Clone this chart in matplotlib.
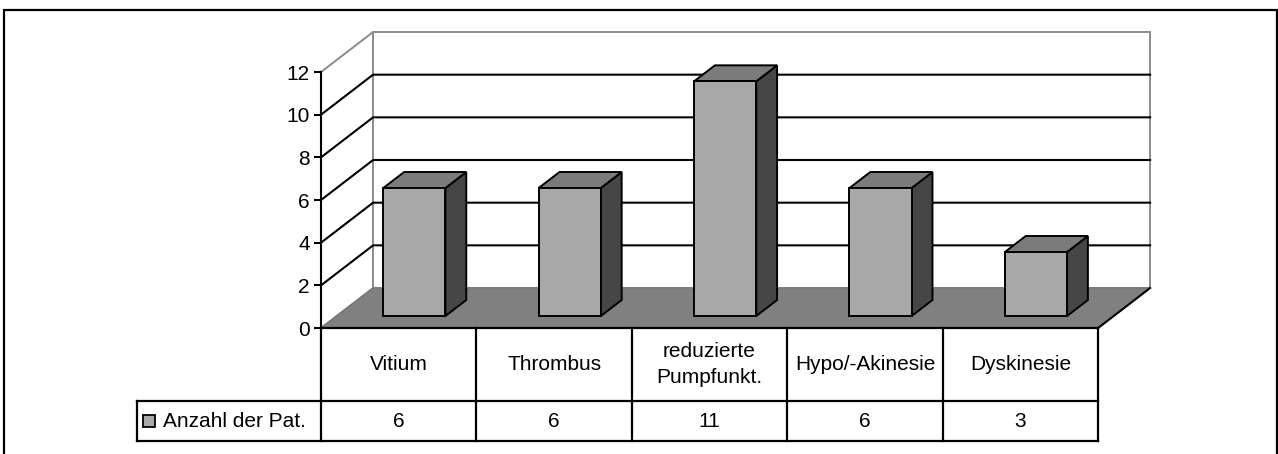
import matplotlib.pyplot as plt
from matplotlib.patches import Polygon, Rectangle

categories = ['Vitium', 'Thrombus', 'reduzierte\nPumpfunkt.', 'Hypo/-Akinesie', 'Dyskinesie']
counts = [6, 6, 11, 6, 3]
series_name = 'Anzahl der Pat.'
y_ticks = [0, 2, 4, 6, 8, 10, 12]

plt.rcParams['font.family'] = ['Liberation Sans', 'DejaVu Sans']
FS = 15

FACE = '#a8a8a8'
TOP = '#7b7b7b'
SIDE = '#464646'
FLOOR = '#808080'
WALL_EDGE = '#8c8c8c'

fig = plt.figure(figsize=(12.78, 4.54), dpi=100)
ax = fig.add_axes([0.2512, 0.2775, 0.608, 0.5639])

n = len(categories)
ymax = y_ticks[-1]
ax.set_xlim(0, n)
ax.set_ylim(0, ymax)
ax.patch.set_visible(False)

# depth offset of the 3d box, in data units
ddx = 0.335
ddy = 1.875

# walls
left_wall = Polygon([(0, 0), (ddx, ddy), (ddx, ymax + ddy), (0, ymax)],
                    closed=True, facecolor='white', edgecolor=WALL_EDGE, lw=1.4,
                    zorder=1, clip_on=False)
back_wall = Polygon([(ddx, ddy), (n + ddx, ddy), (n + ddx, ymax + ddy), (ddx, ymax + ddy)],
                    closed=True, facecolor='white', edgecolor=WALL_EDGE, lw=1.4,
                    zorder=1, clip_on=False)
ax.add_patch(left_wall)
ax.add_patch(back_wall)

# gridlines on both walls
for v in y_ticks[1:-1]:
    ax.plot([0, ddx, n + ddx], [v, v + ddy, v + ddy], color='black', lw=1.5,
            clip_on=False, zorder=2)

# floor
floor = Polygon([(0, 0), (n, 0), (n + ddx, ddy), (ddx, ddy)], closed=True,
                facecolor=FLOOR, edgecolor='#777777', lw=1.0, zorder=3, clip_on=False)
ax.add_patch(floor)
ax.plot([n, n + ddx], [0, ddy], color='black', lw=1.5, clip_on=False, zorder=4)

# 3d bars
w = 1 / 2.5
d0, d1 = 0.3, 0.7
for i, val in enumerate(counts):
    x0 = i + 0.5 - w / 2 + d0 * ddx
    y0 = d0 * ddy
    x1 = x0 + w
    y1 = y0 + val
    ox = (d1 - d0) * ddx
    oy = (d1 - d0) * ddy
    kw = dict(closed=True, edgecolor='black', lw=1.4, zorder=5, clip_on=False,
              joinstyle='miter')
    ax.add_patch(Polygon([(x1, y0), (x1 + ox, y0 + oy), (x1 + ox, y1 + oy), (x1, y1)],
                         facecolor=SIDE, **kw))
    ax.add_patch(Polygon([(x0, y1), (x1, y1), (x1 + ox, y1 + oy), (x0 + ox, y1 + oy)],
                         facecolor=TOP, **kw))
    ax.add_patch(Polygon([(x0, y0), (x1, y0), (x1, y1), (x0, y1)],
                         facecolor=FACE, **kw))

# value axis
for s in ['top', 'right', 'bottom']:
    ax.spines[s].set_visible(False)
ax.spines['left'].set_linewidth(1.5)
ax.spines['left'].set_zorder(6)
ax.set_xticks([])
ax.set_yticks(y_ticks)
ax.tick_params(axis='y', direction='out', length=5, width=1.5, pad=3, labelsize=FS)

# data table under the plot
r1 = -3.42
r2 = -5.30
lx = -1.184
tl = dict(color='black', lw=1.6, clip_on=False, zorder=6)
ax.plot([0, n], [0, 0], **tl)
ax.plot([lx, n], [r1, r1], **tl)
ax.plot([lx, n], [r2, r2], **tl)
ax.plot([lx, lx], [r1, r2], **tl)
for k in range(n + 1):
    ax.plot([k, k], [0, r2], **tl)

for i, (cat, val) in enumerate(zip(categories, counts)):
    ax.text(i + 0.5, r1 / 2, cat, ha='center', va='center', fontsize=FS,
            linespacing=1.45, clip_on=False)
    ax.text(i + 0.5, (r1 + r2) / 2, str(val), ha='center', va='center', fontsize=FS,
            clip_on=False)

# legend key inside the table
ym = (r1 + r2) / 2
ax.add_patch(Rectangle((-1.145, ym - 0.26), 0.077, 0.52, facecolor=FACE,
                       edgecolor='black', lw=1.3, clip_on=False, zorder=6))
ax.text(-1.02, ym, series_name, ha='left', va='center', fontsize=FS, clip_on=False)

# chart area border
fig.add_artist(Rectangle((4 / 1278, -0.1), 1273 / 1278, 1.1 - 10 / 454,
                         transform=fig.transFigure, fill=False, edgecolor='black', lw=1.6))

fig.savefig('out.png', dpi=100)
